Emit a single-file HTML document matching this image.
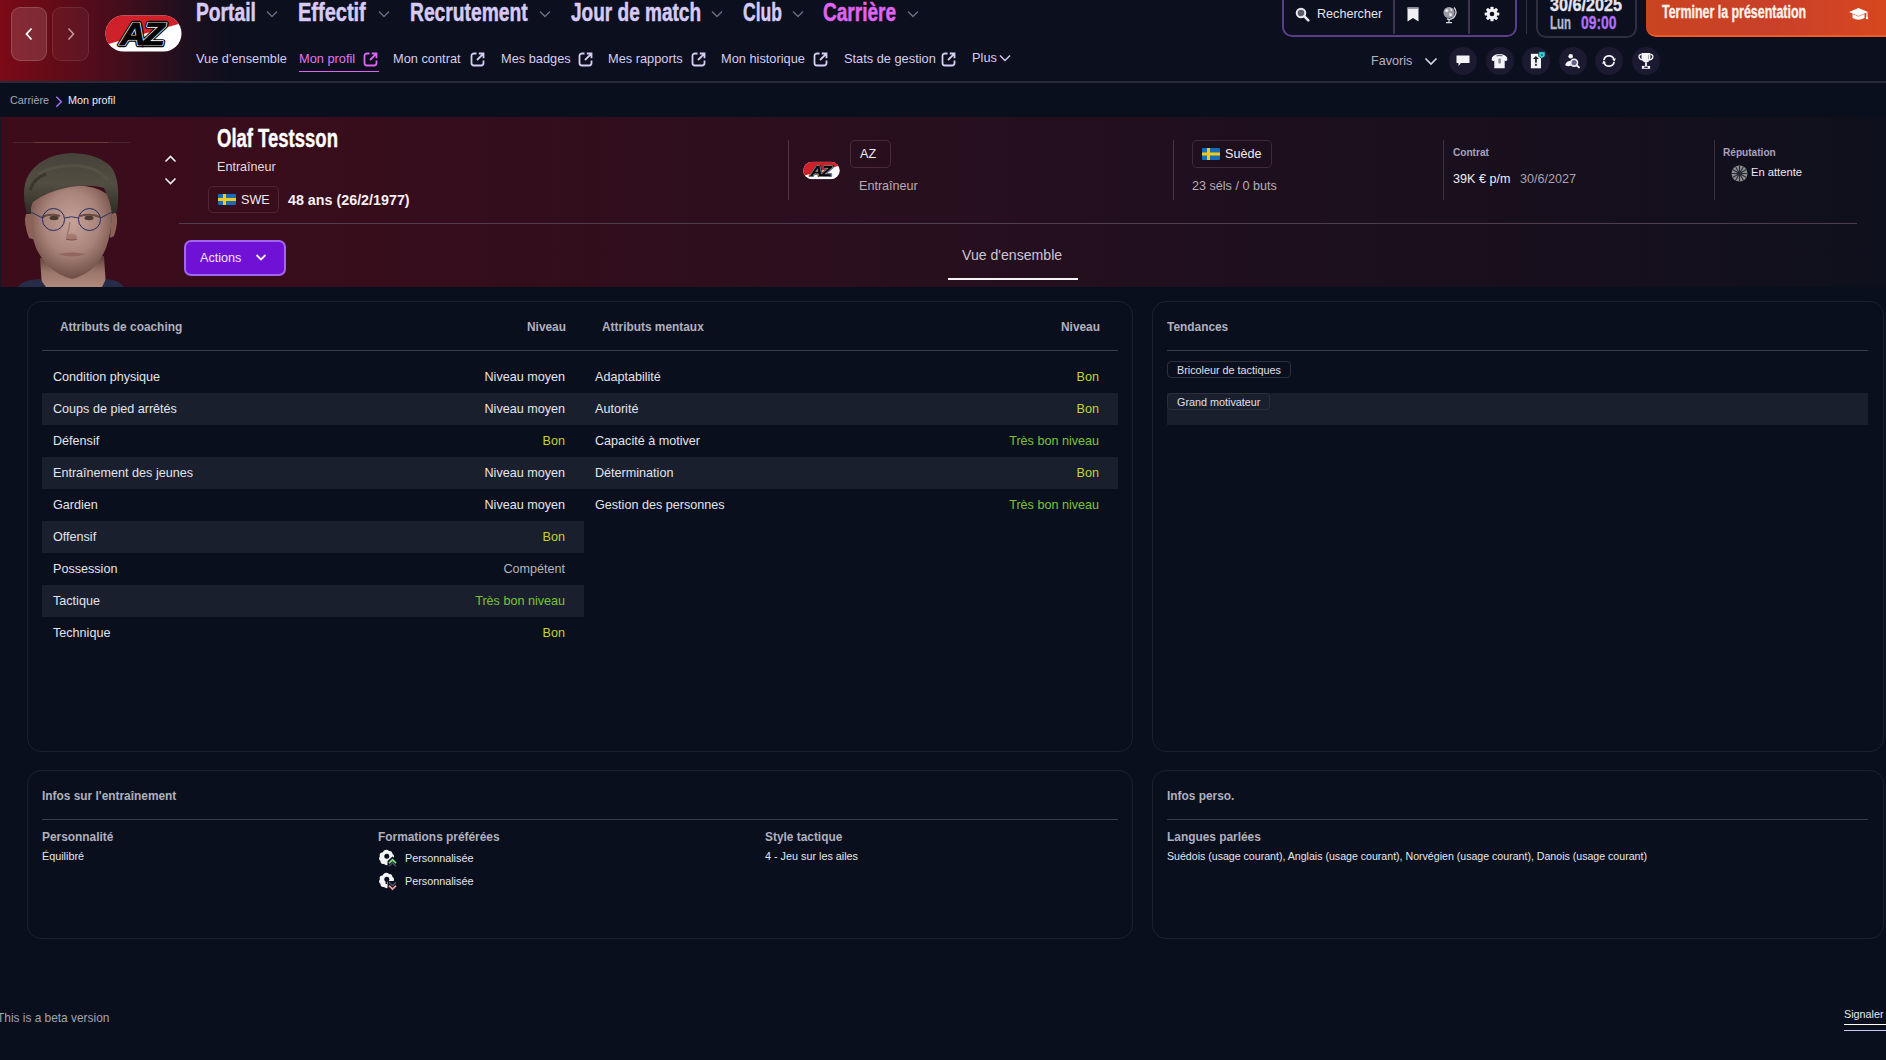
<!DOCTYPE html>
<html lang="fr"><head><meta charset="utf-8"><title>Mon profil</title>
<style>
*{box-sizing:border-box;margin:0;padding:0}
html,body{width:1886px;height:1060px;overflow:hidden;background:#0a0f1d;font-family:"Liberation Sans",Arial,sans-serif;color:#e6e6ee;font-size:12.6px}
.a{position:absolute;white-space:nowrap}
.cond{display:inline-block;font-weight:700;transform-origin:0 0}
/* top bar */
#top{position:absolute;left:0;top:0;width:1886px;height:81px;background:linear-gradient(90deg,#7b0a16 0px,#680b18 45px,#540c1a 90px,#3e0e1c 130px,#2a0f1d 165px,#1a0f1e 195px,#0f0f1e 225px,#0b0f1e 250px,#0b0f1e 100%)}
#topline{position:absolute;left:0;top:81px;width:1886px;height:2px;background:#262b39}
.navbtn{position:absolute;top:7px;width:36px;height:54px;border-radius:9px;border:1px solid rgba(255,255,255,.16)}
.bignav{position:absolute;top:-3px;font-size:25px;line-height:30px;color:#d5cbf6;font-weight:700;-webkit-text-stroke:0.5px currentColor;transform:scaleX(.77);transform-origin:0 0;white-space:nowrap}
.chev{position:absolute;top:10px}
.sub{position:absolute;top:51px;font-size:12.8px;color:#d6cdf3;white-space:nowrap}
.ext{position:absolute;top:52px}
/* profile band */
#band{position:absolute;left:0;top:117px;width:1886px;height:170px;background:linear-gradient(90deg,#3d0c1b 0%,#350d1c 25%,#2a0f1e 45%,#1f0f1e 65%,#160f1d 85%,#0f101d 100%)}
.vdiv{position:absolute;width:1px;background:#4a3443}
.lbl{font-size:10.1px;font-weight:700;color:#a8a2ba}
/* panels */
.panel{position:absolute;border:1px solid #1c2131;border-radius:14px;background:#0a0f1d}
.ph{position:absolute;font-size:11.9px;font-weight:700;color:#b0b0bf}
.hl{position:absolute;height:1px;background:#3a3f4d}
.row{position:absolute;height:32px}
.zb{background:#1a1f2d}
.rl{position:absolute;left:11px;top:9px;color:#e4e4ec}
.rv{position:absolute;right:19px;top:9px}
.bon{color:#c5d22b}.tbn{color:#79c531}.comp{color:#b5b5bd}.nm{color:#e6e6ee}
.tag{position:absolute;font-size:10.8px;color:#e0e0ea;border:1px solid #2a3040;border-radius:4px;padding:1px 9px 0 9px;height:17px;line-height:15px}
.small{font-size:10.8px}
</style></head><body>

<!-- TOP BAR -->
<div id="top"></div>
<div id="topline"></div>
<div class="navbtn" style="left:11px;background:rgba(255,255,255,.13)"></div>
<div class="navbtn" style="left:52px;width:37px;background:rgba(255,255,255,.045);border-color:rgba(255,255,255,.09)"></div>
<svg class="a" style="left:24px;top:27px" width="10" height="14" viewBox="0 0 10 14"><path d="M7.5 1.5 L2.5 7 L7.5 12.5" fill="none" stroke="#fff" stroke-width="1.8"/></svg>
<svg class="a" style="left:66px;top:27px" width="10" height="14" viewBox="0 0 10 14"><path d="M2.5 1.5 L7.5 7 L2.5 12.5" fill="none" stroke="#c99aa6" stroke-width="1.5"/></svg>

<!-- AZ logo -->
<svg class="a" style="left:105px;top:15px" width="77" height="37" viewBox="0 0 77 37">
<defs><clipPath id="pill"><rect x="0.5" y="0.5" width="76" height="36" rx="18"/></clipPath></defs>
<g clip-path="url(#pill)"><rect width="77" height="37" fill="#fff"/><polygon points="0,0 77,0 77,8 0,30" fill="#d0202a"/></g>
<g font-family="Liberation Sans" font-weight="700" font-style="italic" font-size="32" transform="translate(15,30) scale(1.12,1)">
<text x="0" y="0" fill="#000" stroke="#000" stroke-width="4.5" stroke-linejoin="round" letter-spacing="-2.5">AZ</text>
<text x="0" y="0" fill="#000" stroke="#fff" stroke-width="2.2" stroke-linejoin="round" letter-spacing="-2.5">AZ</text>
<text x="0" y="0" fill="#000" stroke="#000" stroke-width="0.8" letter-spacing="-2.5">AZ</text>
</g>
</svg>

<div class="bignav" style="left:196px">Portail</div>
<div class="bignav" style="left:298px;transform:scaleX(.80)">Effectif</div>
<div class="bignav" style="left:410px">Recrutement</div>
<div class="bignav" style="left:571px;transform:scaleX(.761)">Jour de match</div>
<div class="bignav" style="left:743px;transform:scaleX(.70)">Club</div>
<div class="bignav" style="left:823px;color:#e064f2;transform:scaleX(.761)">Carrière</div>
<svg class="chev" style="left:266px" width="12" height="8" viewBox="0 0 12 8"><path d="M1 1.5 L6 6.5 L11 1.5" fill="none" stroke="#6f6a86" stroke-width="1.4"/></svg>
<svg class="chev" style="left:378px" width="12" height="8" viewBox="0 0 12 8"><path d="M1 1.5 L6 6.5 L11 1.5" fill="none" stroke="#6f6a86" stroke-width="1.4"/></svg>
<svg class="chev" style="left:539px" width="12" height="8" viewBox="0 0 12 8"><path d="M1 1.5 L6 6.5 L11 1.5" fill="none" stroke="#6f6a86" stroke-width="1.4"/></svg>
<svg class="chev" style="left:711px" width="12" height="8" viewBox="0 0 12 8"><path d="M1 1.5 L6 6.5 L11 1.5" fill="none" stroke="#6f6a86" stroke-width="1.4"/></svg>
<svg class="chev" style="left:792px" width="12" height="8" viewBox="0 0 12 8"><path d="M1 1.5 L6 6.5 L11 1.5" fill="none" stroke="#6f6a86" stroke-width="1.4"/></svg>
<svg class="chev" style="left:907px" width="12" height="8" viewBox="0 0 12 8"><path d="M1 1.5 L6 6.5 L11 1.5" fill="none" stroke="#6f6a86" stroke-width="1.4"/></svg>

<!-- sub nav -->
<div class="sub" style="left:196px">Vue d'ensemble</div>
<div class="sub" style="left:299px;color:#e472f2">Mon profil</div>
<div class="a" style="left:299px;top:71px;width:80px;height:1.4px;background:#e064f2"></div>
<div class="sub" style="left:393px">Mon contrat</div>
<div class="sub" style="left:501px">Mes badges</div>
<div class="sub" style="left:608px">Mes rapports</div>
<div class="sub" style="left:721px">Mon historique</div>
<div class="sub" style="left:844px">Stats de gestion</div>
<div class="sub" style="left:972px;top:50px">Plus</div>
<svg class="a" style="left:999px;top:54px" width="12" height="8" viewBox="0 0 12 8"><path d="M1 1.5 L6 6.5 L11 1.5" fill="none" stroke="#d6cdf3" stroke-width="1.4"/></svg>
<!-- ext icons -->
<svg class="ext" style="left:363px" width="15" height="15" viewBox="0 0 15 15"><path d="M6.5 1.5H4A2.5 2.5 0 0 0 1.5 4v7A2.5 2.5 0 0 0 4 13.5h7a2.5 2.5 0 0 0 2.5-2.5V8.5M8.8 1.5h4.7v4.7M13.2 1.8L7 8" fill="none" stroke="#e064f2" stroke-width="1.8"/></svg>
<svg class="ext" style="left:470px" width="15" height="15" viewBox="0 0 15 15"><path d="M6.5 1.5H4A2.5 2.5 0 0 0 1.5 4v7A2.5 2.5 0 0 0 4 13.5h7a2.5 2.5 0 0 0 2.5-2.5V8.5M8.8 1.5h4.7v4.7M13.2 1.8L7 8" fill="none" stroke="#d6cdf3" stroke-width="1.8"/></svg>
<svg class="ext" style="left:578px" width="15" height="15" viewBox="0 0 15 15"><path d="M6.5 1.5H4A2.5 2.5 0 0 0 1.5 4v7A2.5 2.5 0 0 0 4 13.5h7a2.5 2.5 0 0 0 2.5-2.5V8.5M8.8 1.5h4.7v4.7M13.2 1.8L7 8" fill="none" stroke="#d6cdf3" stroke-width="1.8"/></svg>
<svg class="ext" style="left:691px" width="15" height="15" viewBox="0 0 15 15"><path d="M6.5 1.5H4A2.5 2.5 0 0 0 1.5 4v7A2.5 2.5 0 0 0 4 13.5h7a2.5 2.5 0 0 0 2.5-2.5V8.5M8.8 1.5h4.7v4.7M13.2 1.8L7 8" fill="none" stroke="#d6cdf3" stroke-width="1.8"/></svg>
<svg class="ext" style="left:813px" width="15" height="15" viewBox="0 0 15 15"><path d="M6.5 1.5H4A2.5 2.5 0 0 0 1.5 4v7A2.5 2.5 0 0 0 4 13.5h7a2.5 2.5 0 0 0 2.5-2.5V8.5M8.8 1.5h4.7v4.7M13.2 1.8L7 8" fill="none" stroke="#d6cdf3" stroke-width="1.8"/></svg>
<svg class="ext" style="left:941px" width="15" height="15" viewBox="0 0 15 15"><path d="M6.5 1.5H4A2.5 2.5 0 0 0 1.5 4v7A2.5 2.5 0 0 0 4 13.5h7a2.5 2.5 0 0 0 2.5-2.5V8.5M8.8 1.5h4.7v4.7M13.2 1.8L7 8" fill="none" stroke="#d6cdf3" stroke-width="1.8"/></svg>

<!-- RIGHT TOP -->
<div class="a" style="left:1282px;top:-10px;width:235px;height:47px;border:2px solid #5b3d8c;border-radius:10px"></div>
<div class="a" style="left:1393px;top:0;width:2px;height:34px;background:#3b3550"></div>
<div class="a" style="left:1468px;top:0;width:2px;height:34px;background:#3b3550"></div>
<svg class="a" style="left:1295px;top:7px" width="15" height="15" viewBox="0 0 15 15"><circle cx="6" cy="6" r="4.3" fill="#5c5c6c" stroke="#e8e8f0" stroke-width="2"/><path d="M9.2 9.2 L13.3 13.3" stroke="#e8e8f0" stroke-width="2.6" stroke-linecap="round"/></svg>
<div class="a" style="left:1317px;top:7px;font-size:12.6px;color:#e4e4ec">Rechercher</div>
<svg class="a" style="left:1406px;top:7px" width="14" height="15" viewBox="0 0 14 15"><path d="M1.5 0.5 H12.5 V14.5 L7 11 L1.5 14.5 Z" fill="#f0f0f4"/><rect x="1.5" y="0.5" width="11" height="1.5" fill="#9a9aa8"/></svg>
<svg class="a" style="left:1441px;top:5px" width="16" height="19" viewBox="0 0 16 19"><circle cx="8" cy="7.5" r="5.6" fill="#9c9ca8"/><path d="M4.5 4.5 q2 -1 3 1 q-1 2 -3 1.5z M8.5 8 q2 0 2.5 2 q-1 2 -2.5 1z M9 3 q2 0.5 2.5 2.5 l-1.5 0.5z" fill="#f2f2f6"/><path d="M13 2.5 A7 7 0 0 1 6 14" fill="none" stroke="#d8d8e0" stroke-width="1.3"/><path d="M8 14 V17 M5 17.6 H11" stroke="#d8d8e0" stroke-width="1.3"/></svg>
<svg class="a" style="left:1484px;top:6px" width="16" height="16" viewBox="0 0 18 18"><g fill="#f2f2f6"><circle cx="9" cy="9" r="6"/><rect x="7.2" y="0.8" width="3.6" height="16.4" rx="1"/><rect x="7.2" y="0.8" width="3.6" height="16.4" rx="1" transform="rotate(45 9 9)"/><rect x="7.2" y="0.8" width="3.6" height="16.4" rx="1" transform="rotate(90 9 9)"/><rect x="7.2" y="0.8" width="3.6" height="16.4" rx="1" transform="rotate(135 9 9)"/></g><circle cx="9" cy="9" r="2.6" fill="#0b0f1e"/></svg>
<div class="a" style="left:1526px;top:0;width:1px;height:34px;background:#2f3342"></div>
<div class="a" style="left:1536px;top:-10px;width:101px;height:48px;border:2px solid #2c303e;border-radius:10px"></div>
<div class="a" style="left:1550px;top:-5.5px;font-size:18.5px;line-height:20px;font-weight:700;color:#e6e4f2;-webkit-text-stroke:0.35px #e6e4f2;transform:scaleX(.875);transform-origin:0 0">30/6/2025</div>
<div class="a" style="left:1550px;top:12.5px;font-size:18.5px;line-height:20px;font-weight:700;color:#bab6ca;-webkit-text-stroke:0.35px #bab6ca;transform:scaleX(.62);transform-origin:0 0">Lun</div>
<div class="a" style="left:1581px;top:12.5px;font-size:18.5px;line-height:20px;font-weight:700;color:#b070f8;-webkit-text-stroke:0.35px #b070f8;transform:scaleX(.75);transform-origin:0 0">09:00</div>
<div class="a" style="left:1646px;top:-12px;width:250px;height:49px;border-radius:10px;background:linear-gradient(90deg,#c94420,#c9402a 50%,#d8471e);border-bottom:2px solid #f05a25"></div>
<div class="a" style="left:1662px;top:1px;font-size:17.5px;line-height:22px;font-weight:700;color:#fff1ea;-webkit-text-stroke:0.35px #fff1ea;transform:scaleX(.71);transform-origin:0 0">Terminer la présentation</div>
<svg class="a" style="left:1848px;top:7px" width="22" height="15" viewBox="0 0 22 15"><path d="M1 5 L10.5 1 L20 5 L10.5 9 Z" fill="#fff"/><path d="M4.5 7 V11 Q10.5 14.5 16.5 11 V7 L10.5 9.6 Z" fill="#fff"/><path d="M19 5.5 V10" stroke="#fff" stroke-width="1.2"/><circle cx="19" cy="11" r="1.2" fill="#fff"/></svg>
<!-- favoris row -->
<div class="a" style="left:1371px;top:54px;font-size:12.6px;color:#b4b4c2">Favoris</div>
<svg class="a" style="left:1424px;top:57px" width="14" height="9" viewBox="0 0 14 9"><path d="M1.5 1.5 L7 7 L12.5 1.5" fill="none" stroke="#d8d8e4" stroke-width="1.6"/></svg>
<div class="a" style="left:1449px;top:47px;width:28px;height:28px;border-radius:50%;background:#1c1a30"></div>
<div class="a" style="left:1486px;top:47px;width:28px;height:28px;border-radius:50%;background:#1c1a30"></div>
<div class="a" style="left:1522px;top:47px;width:28px;height:28px;border-radius:50%;background:#1c1a30"></div>
<div class="a" style="left:1559px;top:47px;width:28px;height:28px;border-radius:50%;background:#1c1a30"></div>
<div class="a" style="left:1595px;top:47px;width:28px;height:28px;border-radius:50%;background:#1c1a30"></div>
<div class="a" style="left:1632px;top:47px;width:28px;height:28px;border-radius:50%;background:#1c1a30"></div>
<svg class="a" style="left:1456px;top:55px" width="14" height="12" viewBox="0 0 14 12"><path d="M0.5 0.5 H13.5 V8 H5 L2.5 11 V8 H0.5 Z" fill="#f4f4f8"/></svg>
<svg class="a" style="left:1491px;top:53px" width="17" height="16" viewBox="0 0 17 16"><path d="M1 4.6 Q3 1.4 8.5 1.1 Q14 1.4 16 4.6 L16.4 7.3 L14.1 8.3 L13.7 7 V15.3 H3.3 V7 L2.9 8.3 L0.6 7.3 Z" fill="#f4f4f8"/><path d="M5.6 2.9 Q8.5 2 11.4 2.9" fill="none" stroke="#6a6a7e" stroke-width="1.3"/><rect x="7.3" y="5.6" width="2.6" height="5" rx="0.8" fill="#8a8a9c"/></svg>
<svg class="a" style="left:1529px;top:51px" width="17" height="18" viewBox="0 0 17 18"><rect x="1.9" y="2.8" width="10.1" height="14.5" fill="#f4f4f8"/><path d="M3.9 8.1 L6.9 5.1 L9.9 8.1 Z" fill="#151626"/><rect x="6.1" y="6.5" width="1.7" height="5.2" fill="#151626"/><rect x="6.1" y="12.8" width="1.7" height="2" fill="#151626"/><path d="M9.7 0.8 H16.1 V5.3 L12.9 7.6 L9.7 5.3 Z" fill="#2fdde0" stroke="#1c1a30" stroke-width="0.7"/><path d="M11.5 3.6 H14.3 L12.9 5.1 Z" fill="#1c1a30"/></svg>
<svg class="a" style="left:1564px;top:52px" width="18" height="17" viewBox="0 0 18 17"><circle cx="6.7" cy="4.3" r="2.3" fill="#f4f4f8"/><path d="M1.2 13.3 Q1.8 9.6 5.2 8.9 L7.4 9.2 Q6.3 11.2 6.9 13.8 Q4 14.8 1.2 13.3 Z" fill="#f4f4f8"/><circle cx="10.1" cy="10.7" r="3.4" fill="#62628a" stroke="#f4f4f8" stroke-width="1.6"/><path d="M12.6 13.2 L15 15.4" stroke="#f4f4f8" stroke-width="1.9" stroke-linecap="round"/></svg>
<svg class="a" style="left:1601px;top:53px" width="16" height="16" viewBox="0 0 16 16"><g fill="none" stroke="#f4f4f8" stroke-width="1.7"><path d="M2.88 7.1 A5.2 5.2 0 0 1 12.89 6.22"/><path d="M13.12 8.9 A5.2 5.2 0 0 1 3.11 9.78"/></g><path d="M13.64 8.6 L14.9 5.2 L11.2 6.5 Z M2.36 7.4 L5.0 9.6 L1.2 10.9 Z" fill="#f4f4f8"/></svg>
<svg class="a" style="left:1637px;top:52px" width="18" height="18" viewBox="0 0 18 18"><path d="M4.5 1.1 H13.4 V5.5 Q13.4 9.8 9 10.6 Q4.5 9.8 4.5 5.5 Z" fill="#f4f4f8"/><path d="M4.4 2.5 Q1.9 2.5 2 4.6 Q2.3 7.2 5 7.8 M13.5 2.5 Q16 2.5 15.9 4.6 Q15.6 7.2 12.9 7.8" fill="none" stroke="#f4f4f8" stroke-width="1.3"/><rect x="8.1" y="10.2" width="1.8" height="3.8" fill="#f4f4f8"/><rect x="4.9" y="13.9" width="8.2" height="2.9" fill="#f4f4f8"/><rect x="7.2" y="14.6" width="3.6" height="1.3" fill="#1c1a30"/><rect x="11.1" y="3" width="0.9" height="4.3" fill="#9a9aaa"/></svg>

<!-- breadcrumb -->
<div class="a small" style="left:10px;top:94px;color:#a8a8b6">Carrière</div>
<svg class="a" style="left:55px;top:96px" width="8" height="12" viewBox="0 0 8 12"><path d="M1.3 0.8 L6.3 5.8 L1.3 10.8" fill="none" stroke="#a46ef4" stroke-width="1.5"/></svg>
<div class="a small" style="left:68px;top:94px;color:#ececf2">Mon profil</div>

<!-- PROFILE BAND -->
<div id="band"></div>
<div class="a" style="left:0;top:117px;width:1px;height:170px;background:#15172a"></div>
<!-- avatar -->
<svg class="a" style="left:0;top:130px" width="150" height="157" viewBox="0 0 150 157">
<defs><radialGradient id="skin" cx="0.5" cy="0.4" r="0.6"><stop offset="0" stop-color="#c6a298"/><stop offset=".55" stop-color="#a9847a"/><stop offset="1" stop-color="#6e4c44"/></radialGradient>
<linearGradient id="hair" x1="0" y1="0" x2="0" y2="1"><stop offset="0" stop-color="#46423a"/><stop offset=".5" stop-color="#524e42"/><stop offset="1" stop-color="#2e2b26"/></linearGradient>
<linearGradient id="neck" x1="0" y1="0" x2="0" y2="1"><stop offset="0" stop-color="#5a4038"/><stop offset=".5" stop-color="#9a7468"/><stop offset="1" stop-color="#b08a7c"/></linearGradient></defs>
<path d="M13 12.5 H130" stroke="#4a2630" stroke-width="1"/><path d="M34 12.5 H108" stroke="#6a3a38" stroke-width="1"/>
<path d="M40 128 L42 157 L106 157 L104 126 Z" fill="url(#neck)"/>
<path d="M18 157 Q22 150 40 149 L46 157 Z M102 157 L106 149 Q120 150 124 157 Z" fill="#262c48"/>
<path d="M31 70 Q29 100 36 118 Q48 143 72 149 Q96 143 106 118 Q113 100 112 70 Q104 56 72 55 Q40 57 31 70 Z" fill="url(#skin)"/>
<path d="M26 84 Q23 92 29 108 L35 110 L33 84 Z M112 82 L110 108 L114 106 Q119 92 116 83 Z" fill="#8a6258"/>
<path d="M27 84 Q19 55 32 40 Q46 24 72 23 Q100 24 112 38 Q121 52 117 82 L112 84 Q110 70 104 58 Q90 54 70 57 Q45 62 33 72 Q30 78 31 84 Z" fill="url(#hair)"/>
<path d="M38 44 Q55 34 80 36 Q98 38 108 50" stroke="#5e5a4a" stroke-width="3" fill="none" opacity=".5"/><path d="M30 60 Q34 48 46 44" stroke="#2c2a24" stroke-width="3" fill="none" opacity=".6"/>
<path d="M42 87 Q50 83 60 86 M80 86 Q90 83 100 87" stroke="#6a4a40" stroke-width="2" fill="none"/>
<ellipse cx="54" cy="88" rx="4.5" ry="2.2" fill="#4a3a30"/><ellipse cx="89" cy="88" rx="4.5" ry="2.2" fill="#4a3a30"/>
<circle cx="53.5" cy="89.5" r="11" fill="none" stroke="#1f2c64" stroke-width="1"/>
<circle cx="89.5" cy="89.5" r="11" fill="none" stroke="#1f2c64" stroke-width="1"/>
<path d="M64.5 88 Q71.5 85.5 78.5 88 M42.5 88 L31 82 M100.5 88 L112 82" fill="none" stroke="#1f2c64" stroke-width="0.9"/>
<path d="M70 92 Q69 100 67 105" fill="none" stroke="#8c6458" stroke-width="1.4" opacity=".7"/><ellipse cx="71.5" cy="107" rx="5.5" ry="3.2" fill="#9a6e62" opacity=".7"/><path d="M66 109 Q71.5 111 77 109" stroke="#6e463e" stroke-width="1.2" fill="none" opacity=".8"/>
<path d="M58 124 Q72 121 86 124 Q72 129 58 124 Z" fill="#946660"/>
</svg>
<svg class="a" style="left:164px;top:154px" width="13" height="32" viewBox="0 0 13 32"><path d="M1.5 7.5 L6.5 2.5 L11.5 7.5 M1.5 24.5 L6.5 29.5 L11.5 24.5" fill="none" stroke="#f0f0f4" stroke-width="1.6"/></svg>
<div class="a" style="left:217px;top:123px;font-size:25px;line-height:30px;font-weight:700;color:#fff;-webkit-text-stroke:0.4px #fff;transform:scaleX(.74);transform-origin:0 0">Olaf Testsson</div>
<div class="a" style="left:217px;top:160px;font-size:12.6px;color:#e0dce2">Entraîneur</div>
<div class="a" style="left:208px;top:186px;width:71px;height:27px;border:1px solid #4f2536;border-radius:5px"></div>
<svg class="a" style="left:218px;top:194px" width="18" height="11" viewBox="0 0 18 11"><rect width="18" height="11" rx="1" fill="#1a6bb8"/><rect x="5" width="3" height="11" fill="#f6c81e"/><rect y="4" width="18" height="3" fill="#f6c81e"/></svg>
<div class="a" style="left:241px;top:193px;font-size:12.6px;color:#eeeaf0">SWE</div>
<div class="a" style="left:288px;top:191.5px;font-size:14.3px;font-weight:700;color:#f4f0f4">48 ans (26/2/1977)</div>
<div class="a" style="left:179px;top:223px;width:1678px;height:1px;background:#4e3d4b"></div>
<div class="a" style="left:184px;top:240px;width:102px;height:36px;border:2px solid #a266ee;border-radius:7px;background:#7012d6"></div>
<div class="a" style="left:200px;top:251px;font-size:12.6px;color:#efe6fb">Actions</div>
<svg class="a" style="left:255px;top:253px" width="12" height="9" viewBox="0 0 12 9"><path d="M1.5 2 L6 6.5 L10.5 2" fill="none" stroke="#f4eefc" stroke-width="1.8"/></svg>
<div class="a" style="left:962px;top:247px;font-size:14.1px;color:#cfc6d2">Vue d'ensemble</div>
<div class="a" style="left:948px;top:278px;width:130px;height:2px;background:#f4f4f6"></div>
<!-- info columns -->
<div class="vdiv" style="left:788px;top:140px;height:60px"></div>
<div class="vdiv" style="left:1173px;top:140px;height:60px"></div>
<div class="vdiv" style="left:1443px;top:140px;height:60px;background:#3e3040"></div>
<div class="vdiv" style="left:1714px;top:140px;height:60px;background:#36303e"></div>
<svg class="a" style="left:803px;top:161px" width="37" height="19" viewBox="0 0 77 37">
<g clip-path="url(#pill)"><rect width="77" height="37" fill="#fff"/><polygon points="0,0 77,0 77,8 0,30" fill="#d0202a"/></g>
<g font-family="Liberation Sans" font-weight="700" font-style="italic" font-size="32" transform="translate(15,30) scale(1.12,1)">
<text x="0" y="0" fill="#000" stroke="#000" stroke-width="4.5" stroke-linejoin="round" letter-spacing="-2.5">AZ</text>
<text x="0" y="0" fill="#000" stroke="#fff" stroke-width="2.2" stroke-linejoin="round" letter-spacing="-2.5">AZ</text>
<text x="0" y="0" fill="#000" stroke="#000" stroke-width="0.8" letter-spacing="-2.5">AZ</text>
</g>
</svg>
<div class="a" style="left:850px;top:140px;width:41px;height:28px;border:1px solid #4a2a3a;border-radius:5px"></div>
<div class="a" style="left:860px;top:147px;font-size:12.6px;color:#f0eef2">AZ</div>
<div class="a" style="left:859px;top:179px;font-size:12.6px;color:#b8adb6">Entraîneur</div>
<div class="a" style="left:1192px;top:140px;width:80px;height:28px;border:1px solid #3e2a3a;border-radius:5px"></div>
<svg class="a" style="left:1202px;top:148px" width="18" height="12" viewBox="0 0 18 12"><rect width="18" height="12" rx="1" fill="#1a6bb8"/><rect x="5" width="3" height="12" fill="#f6c81e"/><rect y="4.5" width="18" height="3" fill="#f6c81e"/></svg>
<div class="a" style="left:1225px;top:147px;font-size:12.6px;color:#f0eef2">Suède</div>
<div class="a" style="left:1192px;top:179px;font-size:12.6px;color:#b8adb6">23 séls / 0 buts</div>
<div class="a lbl" style="left:1453px;top:147px">Contrat</div>
<div class="a" style="left:1453px;top:172px;font-size:12.6px;color:#f0eef2">39K € p/m</div>
<div class="a" style="left:1520px;top:172px;font-size:12.6px;color:#aaa2ae">30/6/2027</div>
<div class="a lbl" style="left:1723px;top:147px">Réputation</div>
<svg class="a" style="left:1731px;top:165px" width="17" height="17" viewBox="0 0 17 17"><circle cx="8.5" cy="8.5" r="8" fill="#8e8e8c"/><g stroke="#262a36" stroke-width="1.1"><path d="M8.5 0.5 V16.5 M0.5 8.5 H16.5 M4.5 1.57 L12.5 15.43 M12.5 1.57 L4.5 15.43 M1.57 4.5 L15.43 12.5 M15.43 4.5 L1.57 12.5"/></g><circle cx="8.5" cy="8.5" r="2.2" fill="#262a36"/></svg>
<div class="a" style="left:1751px;top:166px;font-size:11.2px;color:#ecebf0">En attente</div>

<!-- PANELS -->
<div class="panel" style="left:27px;top:301px;width:1106px;height:451px"></div>
<div class="ph" style="left:60px;top:320px">Attributs de coaching</div>
<div class="ph" style="left:527px;top:320px">Niveau</div>
<div class="ph" style="left:602px;top:320px">Attributs mentaux</div>
<div class="ph" style="left:1061px;top:320px">Niveau</div>
<div class="hl" style="left:42px;top:350px;width:1076px"></div>
<div class="row" style="left:42px;top:361px;width:542px"><span class="rl a">Condition physique</span><span class="rv a nm">Niveau moyen</span></div>
<div class="row zb" style="left:42px;top:393px;width:542px"><span class="rl a">Coups de pied arrêtés</span><span class="rv a nm">Niveau moyen</span></div>
<div class="row" style="left:42px;top:425px;width:542px"><span class="rl a">Défensif</span><span class="rv a bon">Bon</span></div>
<div class="row zb" style="left:42px;top:457px;width:542px"><span class="rl a">Entraînement des jeunes</span><span class="rv a nm">Niveau moyen</span></div>
<div class="row" style="left:42px;top:489px;width:542px"><span class="rl a">Gardien</span><span class="rv a nm">Niveau moyen</span></div>
<div class="row zb" style="left:42px;top:521px;width:542px"><span class="rl a">Offensif</span><span class="rv a bon">Bon</span></div>
<div class="row" style="left:42px;top:553px;width:542px"><span class="rl a">Possession</span><span class="rv a comp">Compétent</span></div>
<div class="row zb" style="left:42px;top:585px;width:542px"><span class="rl a">Tactique</span><span class="rv a tbn">Très bon niveau</span></div>
<div class="row" style="left:42px;top:617px;width:542px"><span class="rl a">Technique</span><span class="rv a bon">Bon</span></div>
<div class="row" style="left:584px;top:361px;width:534px"><span class="rl a">Adaptabilité</span><span class="rv a bon">Bon</span></div>
<div class="row zb" style="left:584px;top:393px;width:534px"><span class="rl a">Autorité</span><span class="rv a bon">Bon</span></div>
<div class="row" style="left:584px;top:425px;width:534px"><span class="rl a">Capacité à motiver</span><span class="rv a tbn">Très bon niveau</span></div>
<div class="row zb" style="left:584px;top:457px;width:534px"><span class="rl a">Détermination</span><span class="rv a bon">Bon</span></div>
<div class="row" style="left:584px;top:489px;width:534px"><span class="rl a">Gestion des personnes</span><span class="rv a tbn">Très bon niveau</span></div>
<div class="panel" style="left:1152px;top:301px;width:732px;height:451px"></div>
<div class="ph" style="left:1167px;top:320px">Tendances</div>
<div class="hl" style="left:1167px;top:350px;width:701px"></div>
<div class="a zb" style="left:1167px;top:393px;width:701px;height:32px"></div>
<div class="tag" style="left:1167px;top:361px">Bricoleur de tactiques</div>
<div class="tag" style="left:1167px;top:393px">Grand motivateur</div>
<div class="panel" style="left:27px;top:770px;width:1106px;height:169px"></div>
<div class="ph" style="left:42px;top:789px">Infos sur l'entraînement</div>
<div class="hl" style="left:42px;top:819px;width:1076px"></div>
<div class="ph" style="left:42px;top:830px">Personnalité</div>
<div class="a small" style="left:42px;top:850px;color:#e6e6ee">Équilibré</div>
<div class="ph" style="left:378px;top:830px">Formations préférées</div>
<svg class="a" style="left:378px;top:849px" width="20" height="19" viewBox="0 0 20 19"><path d="M6 1.5 Q9 0 11 2 Q14 1.5 14.5 5 Q17 6.5 15.5 9.5 Q16 12.5 12.5 13 L11 15.5 Q8 17 6 15 Q2.5 15.5 2.5 12 Q0 10 1.8 7.5 Q1 3.5 4.5 3.5 Z" fill="#f4f4f6"/><circle cx="8.8" cy="7.3" r="2.5" fill="#0b1020"/><path d="M9.5 12 L14.5 7.5 L19.5 12 V19 H9.5Z" fill="#0b1020"/><path d="M11 14.2 L14.5 10.8 L18 14.2" fill="none" stroke="#82e07e" stroke-width="1.7"/><path d="M11 17.2 L14.5 13.8 L18 17.2" fill="none" stroke="#4c505c" stroke-width="1.4"/></svg>
<svg class="a" style="left:378px;top:872px" width="20" height="19" viewBox="0 0 20 19"><path d="M6 1.5 Q9 0 11 2 Q14 1.5 14.5 5 Q17 6.5 15.5 9.5 Q16 12.5 12.5 13 L11 15.5 Q8 17 6 15 Q2.5 15.5 2.5 12 Q0 10 1.8 7.5 Q1 3.5 4.5 3.5 Z" fill="#f4f4f6"/><circle cx="8.8" cy="7.3" r="2.5" fill="#0b1020"/><path d="M8.3 8 V12" stroke="#0b1020" stroke-width="1.4"/><path d="M9.5 9 L19.5 9 V19 H9.5Z" fill="#0b1020"/><path d="M11 10.3 L14.5 13.5 L18 10.3" fill="none" stroke="#4c505c" stroke-width="1.4"/><path d="M11 13.6 L14.5 17 L18 13.6" fill="none" stroke="#f2a2a0" stroke-width="1.7"/></svg>
<div class="a small" style="left:405px;top:852px;color:#e6e6ee">Personnalisée</div>
<div class="a small" style="left:405px;top:875px;color:#e6e6ee">Personnalisée</div>
<div class="ph" style="left:765px;top:830px">Style tactique</div>
<div class="a small" style="left:765px;top:850px;color:#e6e6ee">4 - Jeu sur les ailes</div>
<div class="panel" style="left:1152px;top:770px;width:732px;height:169px"></div>
<div class="ph" style="left:1167px;top:789px">Infos perso.</div>
<div class="hl" style="left:1167px;top:819px;width:701px"></div>
<div class="ph" style="left:1167px;top:830px">Langues parlées</div>
<div class="a small" style="left:1167px;top:850px;color:#e6e6ee;font-size:10.6px">Suédois (usage courant), Anglais (usage courant), Norvégien (usage courant), Danois (usage courant)</div>

<!-- footer -->
<div class="a" style="left:-3px;top:1010.5px;font-size:11.9px;color:#a4a4b0">This is a beta version</div>
<div class="a small" style="left:1844px;top:1008px;color:#e6e6ee">Signaler</div>
<div class="a" style="left:1844px;top:1024px;width:42px;height:1px;background:#fff"></div>
<div class="a" style="left:1844px;top:1030px;width:42px;height:1px;background:#c8c8f0"></div>
</body></html>
